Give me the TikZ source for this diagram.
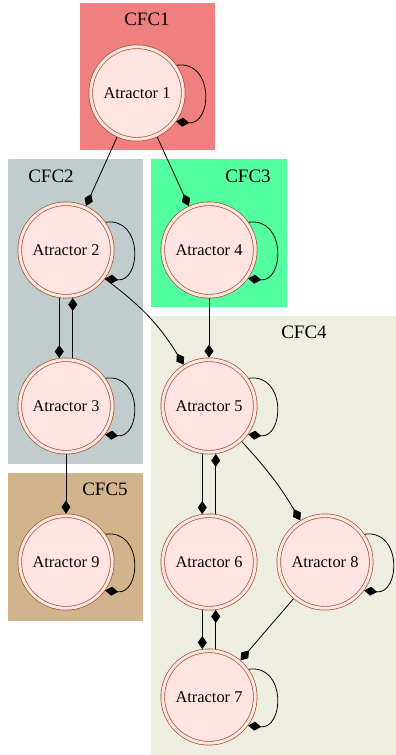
\documentclass[tikz,border=0pt]{standalone}
\usepackage{fontspec}
\setmainfont{Liberation Serif}
\usetikzlibrary{arrows.meta}

\definecolor{lightcoral}{HTML}{F08080}
\definecolor{azurethree}{HTML}{C1CDCD}
\definecolor{seagreenone}{HTML}{54FF9F}
\definecolor{ivorytwo}{HTML}{EEEEE0}
\definecolor{tanbox}{HTML}{D2B48C}
\definecolor{mistyrose}{HTML}{FFE4E1}
\definecolor{sienna}{HTML}{A0522D}

\tikzset{
  atractor/.style={circle, draw=sienna, line width=0.7pt, double=mistyrose,
    double distance=3pt, fill=mistyrose, minimum size=92.5pt, inner sep=0pt,
    outer sep=2.2pt, font=\fontsize{16.4}{18}\selectfont},
  cfclabel/.style={font=\fontsize{19}{21}\selectfont},
  arr/.style={-{Diamond[length=13pt,width=9pt]}, line width=0.8pt},
}

\begin{document}
\begin{tikzpicture}[x=1pt,y=1pt]
\useasboundingbox (0,0) rectangle (396,-755);
% clusters
\fill[lightcoral] (80,-3) rectangle (215,-150);
\fill[azurethree] (8,-159) rectangle (143,-464);
\fill[seagreenone] (151,-159) rectangle (287,-307);
\fill[ivorytwo] (151,-316) rectangle (396,-755);
\fill[tanbox] (8,-473) rectangle (143,-621);
\node[cfclabel] (cfc1) at (147,-19.5) {CFC1};
\node[cfclabel] (cfc2) at (51,-176) {CFC2};
\node[cfclabel] (cfc3) at (248,-176.5) {CFC3};
\node[cfclabel] (cfc4) at (304,-332) {CFC4};
\node[cfclabel] (cfc5) at (105,-489) {CFC5};

% atractores
\node[atractor] (a1) at (137,-93) {Atractor 1};
\node[atractor] (a2) at (66,-250) {Atractor 2};
\node[atractor] (a3) at (66,-406) {Atractor 3};
\node[atractor] (a4) at (209,-250) {Atractor 4};
\node[atractor] (a5) at (209,-406) {Atractor 5};
\node[atractor] (a6) at (209,-562) {Atractor 6};
\node[atractor] (a7) at (209,-697) {Atractor 7};
\node[atractor] (a8) at (325,-562) {Atractor 8};
\node[atractor] (a9) at (66,-562) {Atractor 9};

% self loops (none on a6)
\foreach \n in {a1,a2,a3,a4,a5,a7,a8,a9}
  \draw[arr] (\n.35) .. controls +(38,5) and +(36,-4) .. (\n.-36);

% transitions
\draw[arr] (a1) -- (a2);
\draw[arr] (a1) -- (a4);
\draw[arr] (a2.262) -- (a3.98);
\draw[arr] (a3.82) -- (a2.278);
\draw[arr] (a2) to[bend left=11] (a5);
\draw[arr] (a3) -- (a9);
\draw[arr] (a4) -- (a5);
\draw[arr] (a5.262) -- (a6.98);
\draw[arr] (a6.82) -- (a5.278);
\draw[arr] (a5) to[bend left=6] (a8);
\draw[arr] (a6.262) -- (a7.98);
\draw[arr] (a7.82) -- (a6.278);
\draw[arr] (a8) -- (a7);
\end{tikzpicture}
\end{document}
